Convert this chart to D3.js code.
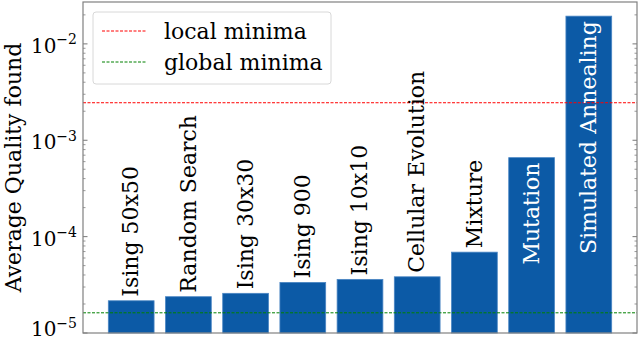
<!DOCTYPE html>
<html>
<head>
<meta charset="utf-8">
<script src="https://cdn.jsdelivr.net/npm/d3@7"></script>
<style>
  body { margin: 0; background: #fff; }
  text { font-family: "DejaVu Serif", serif; }
</style>
</head>
<body>
<svg id="chart" width="640" height="342"></svg>
<script>
var methods = ["Ising 50x50", "Random Search", "Ising 30x30", "Ising 900", "Ising 10x10",
  "Cellular Evolution", "Mixture", "Mutation", "Simulated Annealing"];
var quality = [2.16e-5, 2.38e-5, 2.58e-5, 3.35e-5, 3.6e-5, 3.83e-5, 6.9e-5, 6.6e-4, 1.94e-2];
var insideLabel = [false, false, false, false, false, false, false, true, true];
var localMinima = 2.45e-3;
var globalMinima = 1.62e-5;
var yTicks = [1e-5, 1e-4, 1e-3, 1e-2];
var yTickExp = ["\u22125", "\u22124", "\u22123", "\u22122"];

var plotLeft = 83, plotRight = 637, plotTop = 2, plotBottom = 333;
var svg = d3.select("#chart");

var x = d3.scaleBand()
  .domain(methods)
  .range([plotLeft, plotRight])
  .paddingInner(0.2)
  .paddingOuter(0.4425);

var y = d3.scaleLog()
  .domain([1e-5, 2.72e-2])
  .range([plotBottom, plotTop]);

// bars
svg.selectAll("rect.bar")
  .data(methods)
  .enter()
  .append("rect")
  .attr("class", "bar")
  .attr("x", function(d) { return x(d); })
  .attr("y", function(d, i) { return y(quality[i]); })
  .attr("width", x.bandwidth())
  .attr("height", function(d, i) { return plotBottom - y(quality[i]); })
  .style("fill", "#0c5aa6")
  .style("stroke", "#4a86c4")
  .style("stroke-width", 0.8);

// minima lines
svg.append("line")
  .attr("x1", plotLeft).attr("x2", plotRight)
  .attr("y1", y(localMinima)).attr("y2", y(localMinima))
  .style("stroke", "#ff0000").style("stroke-width", 1)
  .style("stroke-dasharray", "3,1.5");

svg.append("line")
  .attr("x1", plotLeft).attr("x2", plotRight)
  .attr("y1", y(globalMinima)).attr("y2", y(globalMinima))
  .style("stroke", "#008000").style("stroke-width", 1)
  .style("stroke-dasharray", "3,1.5");

// bar labels
svg.selectAll("text.lbl")
  .data(methods)
  .enter()
  .append("text")
  .attr("class", "lbl")
  .attr("transform", function(d, i) {
    var cx = x(d) + x.bandwidth() / 2;
    var yy = insideLabel[i] ? y(quality[i]) + 5 : y(quality[i]) - 4;
    return "translate(" + cx + "," + yy + ")rotate(-90)";
  })
  .attr("dy", "0.33em")
  .attr("text-anchor", function(d, i) { return insideLabel[i] ? "end" : "start"; })
  .style("font-size", "22px")
  .style("fill", function(d, i) { return insideLabel[i] ? "#fff" : "#000"; })
  .text(function(d) { return d; });

// y axis ticks (inward, both sides)
var minor = [];
for (var e = -5; e <= -2; e++) {
  for (var m = 2; m <= 9; m++) {
    var v = m * Math.pow(10, e);
    if (v <= y.domain()[1]) minor.push(v);
  }
}
[plotLeft, plotRight].forEach(function(sx) {
  var dir = sx === plotLeft ? 1 : -1;
  svg.selectAll(null).data(minor).enter().append("line")
    .attr("x1", sx).attr("x2", sx + dir * 2.5)
    .attr("y1", function(d) { return y(d); }).attr("y2", function(d) { return y(d); })
    .style("stroke", "#555").style("stroke-width", 0.6);
  svg.selectAll(null).data(yTicks).enter().append("line")
    .attr("x1", sx).attr("x2", sx + dir * 4.5)
    .attr("y1", function(d) { return y(d); }).attr("y2", function(d) { return y(d); })
    .style("stroke", "#555").style("stroke-width", 0.8);
});

var tl = svg.selectAll("text.tick")
  .data(yTicks)
  .enter()
  .append("text")
  .attr("class", "tick")
  .attr("x", 77)
  .attr("y", function(d) { return Math.min(y(d) + 9, 336); })
  .attr("text-anchor", "end")
  .style("font-size", "20px")
  .style("fill", "#000");
tl.append("tspan").text("10");
tl.append("tspan")
  .attr("dy", "-0.6em")
  .style("font-size", "14px")
  .text(function(d, i) { return yTickExp[i]; });

// frame
svg.append("rect")
  .attr("x", plotLeft).attr("y", plotTop)
  .attr("width", plotRight - plotLeft).attr("height", plotBottom - plotTop)
  .style("fill", "none").style("stroke", "#808080").style("stroke-width", 1.2);

// y label
svg.append("text")
  .attr("transform", "translate(13," + ((plotTop + plotBottom) / 2) + ")rotate(-90)")
  .attr("dy", "0.35em")
  .attr("text-anchor", "middle")
  .style("font-size", "22px")
  .text("Average Quality found");

// legend
var lg = svg.append("g");
lg.append("rect")
  .attr("x", 93).attr("y", 12).attr("width", 238).attr("height", 72)
  .attr("rx", 3)
  .style("fill", "#fff").style("fill-opacity", 0.8)
  .style("stroke", "#d8d8d8").style("stroke-width", 1);
var legendItems = [
  { label: "local minima", color: "#ff0000" },
  { label: "global minima", color: "#008000" }
];
legendItems.forEach(function(it, i) {
  var ly = 31 + i * 31;
  lg.append("line")
    .attr("x1", 102).attr("x2", 147).attr("y1", ly).attr("y2", ly)
    .style("stroke", it.color).style("stroke-width", 1)
    .style("stroke-dasharray", "3,1.5");
  lg.append("text")
    .attr("x", 164).attr("y", ly).attr("dy", "0.35em")
    .style("font-size", "22px")
    .text(it.label);
});
</script>
</body>
</html>
